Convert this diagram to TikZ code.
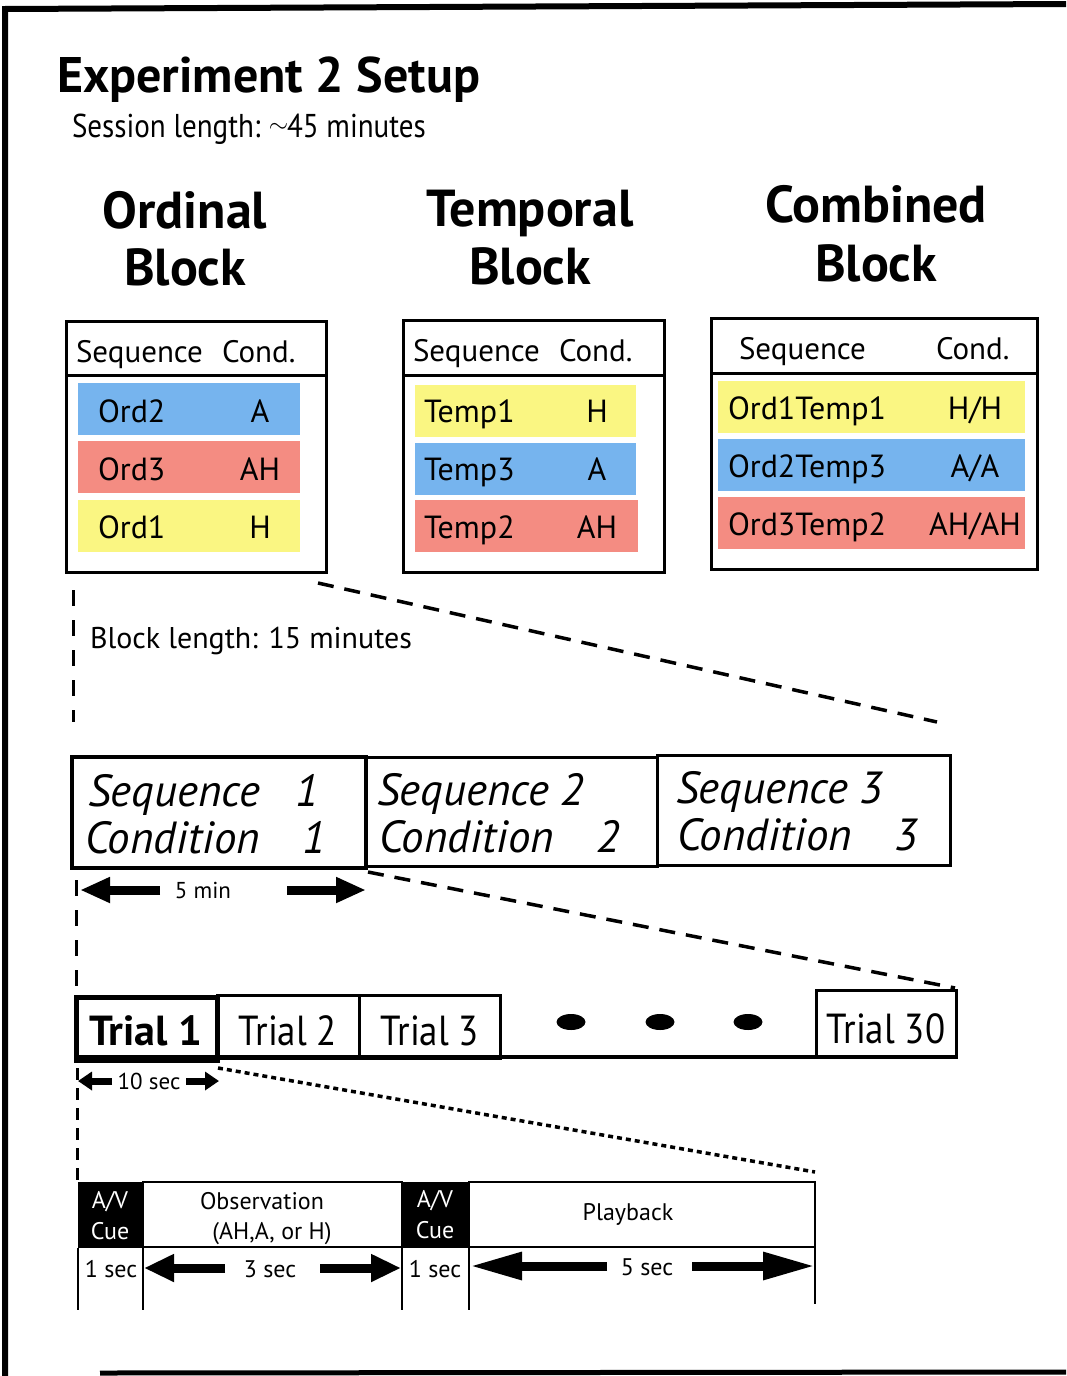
\documentclass[tikz,border=0pt]{standalone}
\usepackage{fontspec}
\setmainfont{PT Sans}
\newfontfamily\condfont{PT Sans}[FakeStretch=0.88]
\usetikzlibrary{arrows.meta,shapes.geometric}
\definecolor{cblue}{RGB}{118,180,238}
\definecolor{cred}{RGB}{244,140,130}
\definecolor{cyel}{RGB}{250,246,130}
\newcommand{\fs}[1]{\fontsize{#1}{#1}\selectfont}
\begin{document}
\begin{tikzpicture}[x=1pt,y=-1pt,
  every node/.style={inner sep=0pt, outer sep=0pt},
  ttl/.style={font=\fs{50}\bfseries, anchor=base west},
  sub/.style={font=\condfont\fs{33}, anchor=base west},
  head/.style={font=\fs{52}\bfseries, anchor=base},
  tbl/.style={draw, line width=3pt, anchor=north west},
  rowbox/.style={anchor=north west, minimum height=52pt},
  htxt/.style={font=\fs{31}, anchor=base west},
  rtxt/.style={font=\fs{32}, anchor=base west},
  ctxt/.style={font=\fs{32}, anchor=base},
  seqbox/.style={draw, line width=3pt, anchor=north west},
  itxt/.style={font=\fs{45}\itshape, anchor=base west},
  inum/.style={font=\fs{45}\itshape, anchor=base},
  trialbox/.style={draw, line width=3pt, anchor=north west},
  ttxt/.style={font=\condfont\fs{42}, anchor=base},
  smtxt/.style={font=\fs{23}, anchor=base},
  celltxt/.style={font=\fs{24}, anchor=base},
  bigdash/.style={line width=3.5pt, dash pattern=on 16pt off 11pt},
  vdash/.style={line width=3pt, dash pattern=on 16pt off 14pt},
  dotline/.style={line width=3.5pt, dash pattern=on 5pt off 4pt},
  fatarrow/.style={line width=9pt, -{Triangle[length=30pt,width=24pt]}},
  smallarrow/.style={line width=7pt, -{Triangle[length=14pt,width=18pt]}},
  dotnode/.style={fill=black, ellipse, minimum width=29pt, minimum height=16pt},
]
\useasboundingbox (0,0) rectangle (1066,1376);
% frame
\coordinate (fTL) at (5,9);
\coordinate (fTR) at (1066,4);
\coordinate (fBL) at (8,1376);
\coordinate (fB1) at (100,1373);
\coordinate (fB2) at (1066,1372);
\draw[line width=6pt] (fTR) -- (fTL) -- (fTL |- fBL);
\draw[line width=5pt, draw=black] (fB1) -- (fB2);

% title
\node[ttl] (title) at (57,92) {Experiment 2 Setup};
\node[sub] (session) at (72,137) {Session length: \kern-2pt\raisebox{0.3ex}{\fs{24}$\sim$}\kern-1pt45 minutes};

% headings
\node[head] (h1a) at (185,228) {Ordinal};
\node[head] (h1b) at (185,285) {Block};
\node[head] (h2a) at (530,226) {Temporal};
\node[head] (h2b) at (530,284) {Block};
\node[head] (h3a) at (876,222) {Combined};
\node[head] (h3b) at (876,281) {Block};

% ordinal table
\node[tbl, minimum width=260pt, minimum height=251pt] (ordbox) at (66,321) {};
\draw[line width=3pt] (66,375) -- (326,375);
\node[htxt] (ordhs) at (76,362) {Sequence};
\node[htxt] (ordhc) at (222,362) {Cond.};
\node[rowbox, fill=cblue, minimum width=222pt] (or1) at (78,383) {};
\node[rowbox, fill=cred, minimum width=222pt] (or2) at (78,441) {};
\node[rowbox, fill=cyel, minimum width=222pt] (or3) at (78,500) {};
\node[rtxt] (or1s) at (98,422) {Ord2};
\node[ctxt] (or1c) at (260,422) {A};
\node[rtxt] (or2s) at (98,480) {Ord3};
\node[ctxt] (or2c) at (260,480) {AH};
\node[rtxt] (or3s) at (98,538) {Ord1};
\node[ctxt] (or3c) at (260,538) {H};

% temporal table
\node[tbl, minimum width=261pt, minimum height=252pt] (tembox) at (403,320) {};
\draw[line width=3pt] (403,375) -- (664,375);
\node[htxt] (temhs) at (413,361) {Sequence};
\node[htxt] (temhc) at (559,361) {Cond.};
\node[rowbox, fill=cyel, minimum width=221pt] (tr1) at (415,385) {};
\node[rowbox, fill=cblue, minimum width=221pt] (tr2) at (415,443) {};
\node[rowbox, fill=cred, minimum width=223pt] (tr3) at (415,500) {};
\node[rtxt] (tr1s) at (424,422) {Temp1};
\node[ctxt] (tr1c) at (597,422) {H};
\node[rtxt] (tr2s) at (424,480) {Temp3};
\node[ctxt] (tr2c) at (597,480) {A};
\node[rtxt] (tr3s) at (424,538) {Temp2};
\node[ctxt] (tr3c) at (597,538) {AH};

% combined table
\node[tbl, minimum width=326pt, minimum height=251pt] (combox) at (711,318) {};
\draw[line width=3pt] (711,373) -- (1037,373);
\node[htxt] (comhs) at (739,359) {Sequence};
\node[htxt] (comhc) at (936,359) {Cond.};
\node[rowbox, fill=cyel, minimum width=307pt] (cr1) at (718,381) {};
\node[rowbox, fill=cblue, minimum width=307pt] (cr2) at (718,439) {};
\node[rowbox, fill=cred, minimum width=307pt] (cr3) at (718,497) {};
\node[rtxt] (cr1s) at (728,419) {Ord1Temp1};
\node[ctxt] (cr1c) at (975,419) {H/H};
\node[rtxt] (cr2s) at (728,477) {Ord2Temp3};
\node[ctxt] (cr2c) at (975,477) {A/A};
\node[rtxt] (cr3s) at (728,535) {Ord3Temp2};
\node[ctxt] (cr3c) at (975,535) {AH/AH};

% block zoom lines
\coordinate (z1a) at (318,583);
\coordinate (z1b) at (937,722);
\coordinate (v1a) at (73,590);
\coordinate (v1b) at (73,722);
\draw[bigdash] (z1a) -- (z1b);
\draw[vdash] (v1a) -- (v1b);
\node[sub, font=\fs{30}] (blocklen) at (90,648) {Block length: 15 minutes};

% sequence boxes
\node[seqbox, minimum width=291pt, minimum height=109pt] (s2) at (366,757) {};
\node[seqbox, minimum width=293pt, minimum height=110pt] (s3) at (657,755) {};
\node[seqbox, line width=4.5pt, minimum width=294pt, minimum height=111pt] (s1) at (72,757) {};
\node[itxt] (s1a) at (88,806) {Sequence};
\node[inum] (s1an) at (307,806) {1};
\node[itxt] (s1b) at (85,853) {Condition};
\node[inum] (s1bn) at (314,853) {1};
\node[itxt] (s2a) at (377,805) {Sequence 2};
\node[itxt] (s2b) at (379,852) {Condition};
\node[inum] (s2bn) at (608,852) {2};
\node[itxt] (s3a) at (676,803) {Sequence 3};
\node[itxt] (s3b) at (677,850) {Condition};
\node[inum] (s3bn) at (906,850) {3};

% 5 min
\coordinate (m5l0) at (160,890);
\coordinate (m5l1) at (80,890);
\coordinate (m5r0) at (287,890);
\coordinate (m5r1) at (366,890);
\draw[fatarrow] (m5l0) -- (m5l1);
\draw[fatarrow] (m5r0) -- (m5r1);
\node[smtxt] (m5) at (203,898) {5 min};
\coordinate (z2a) at (368,872);
\coordinate (z2b) at (955,988);
\coordinate (v2a) at (76,880);
\coordinate (v2b) at (76,990);
\draw[bigdash] (z2a) -- (z2b);
\draw[vdash] (v2a) -- (v2b);

% trials
\draw[line width=3.5pt] (76,1057) -- (957,1057);
\node[trialbox, minimum width=142pt, minimum height=63pt] (t2) at (217,995) {};
\node[trialbox, minimum width=141pt, minimum height=63pt] (t3) at (359,995) {};
\node[trialbox, minimum width=140pt, minimum height=67pt] (t30) at (816,990) {};
\node[trialbox, line width=5pt, minimum width=141pt, minimum height=63pt] (t1) at (76,997) {};
\node[ttxt, font=\fs{42}\bfseries] (t1t) at (146,1045) {Trial 1};
\node[ttxt] (t2t) at (288,1045) {Trial 2};
\node[ttxt] (t3t) at (430,1045) {Trial 3};
\node[ttxt] (t30t) at (886,1043) {Trial 30};
\node[dotnode] (d1) at (571,1022) {};
\node[dotnode] (d2) at (660,1022) {};
\node[dotnode] (d3) at (748,1022) {};

% 10 sec
\coordinate (s10l0) at (112,1081);
\coordinate (s10l1) at (78,1081);
\coordinate (s10r0) at (186,1081);
\coordinate (s10r1) at (219,1081);
\draw[smallarrow] (s10l0) -- (s10l1);
\draw[smallarrow] (s10r0) -- (s10r1);
\node[smtxt] (s10) at (149,1089) {10 sec};
\coordinate (z3a) at (218,1068);
\coordinate (z3b) at (815,1172);
\coordinate (v3a) at (77,1068);
\coordinate (v3b) at (77,1180);
\draw[dotline] (z3a) -- (z3b);
\draw[line width=3pt, dash pattern=on 12pt off 8pt] (v3a) -- (v3b);

% trial structure
\node[anchor=north west, fill=black, minimum width=65pt, minimum height=66pt] (cue1) at (78,1182) {};
\node[anchor=north west, fill=black, minimum width=67pt, minimum height=66pt] (cue2) at (402,1182) {};
\node[anchor=north west, draw, line width=2.5pt, minimum width=259pt, minimum height=65pt] (obs) at (143,1182) {};
\node[anchor=north west, draw, line width=2.5pt, minimum width=346pt, minimum height=65pt] (play) at (469,1182) {};
\node[celltxt, text=white] (c1a) at (110,1208) {A/V};
\node[celltxt, text=white] (c1b) at (110,1239) {Cue};
\node[celltxt, text=white] (c2a) at (435,1207) {A/V};
\node[celltxt, text=white] (c2b) at (435,1238) {Cue};
\node[celltxt] (obs1) at (262,1209) {Observation};
\node[celltxt] (obs2) at (272,1239) {(AH,A, or H)};
\node[celltxt] (playt) at (628,1220) {Playback};
\draw[line width=2.5pt] (cue1.south west) -- ++(0,62);
\draw[line width=2.5pt] (cue1.south east) -- ++(0,62);
\draw[line width=2.5pt] (cue2.south west) -- ++(0,62);
\draw[line width=2.5pt] (cue2.south east) -- ++(0,62);
\draw[line width=2.5pt] (play.south east) -- ++(0,57);
\node[celltxt] (sec1a) at (111,1277) {1 sec};
\node[celltxt] (sec3) at (270,1277) {3 sec};
\node[celltxt] (sec1b) at (435,1277) {1 sec};
\node[celltxt] (sec5) at (647,1275) {5 sec};
\coordinate (a3l0) at (225,1268);
\coordinate (a3l1) at (144,1268);
\coordinate (a3r0) at (320,1268);
\coordinate (a3r1) at (401,1268);
\coordinate (a5l0) at (607,1266);
\coordinate (a5l1) at (470,1266);
\coordinate (a5r0) at (692,1266);
\coordinate (a5r1) at (815,1266);
\draw[line width=9pt, -{Triangle[length=30pt,width=26pt]}] (a3l0) -- (a3l1);
\draw[line width=9pt, -{Triangle[length=30pt,width=26pt]}] (a3r0) -- (a3r1);
\draw[line width=9pt, -{Triangle[length=52pt,width=26pt]}] (a5l0) -- (a5l1);
\draw[line width=9pt, -{Triangle[length=52pt,width=26pt]}] (a5r0) -- (a5r1);
\end{tikzpicture}
\end{document}
